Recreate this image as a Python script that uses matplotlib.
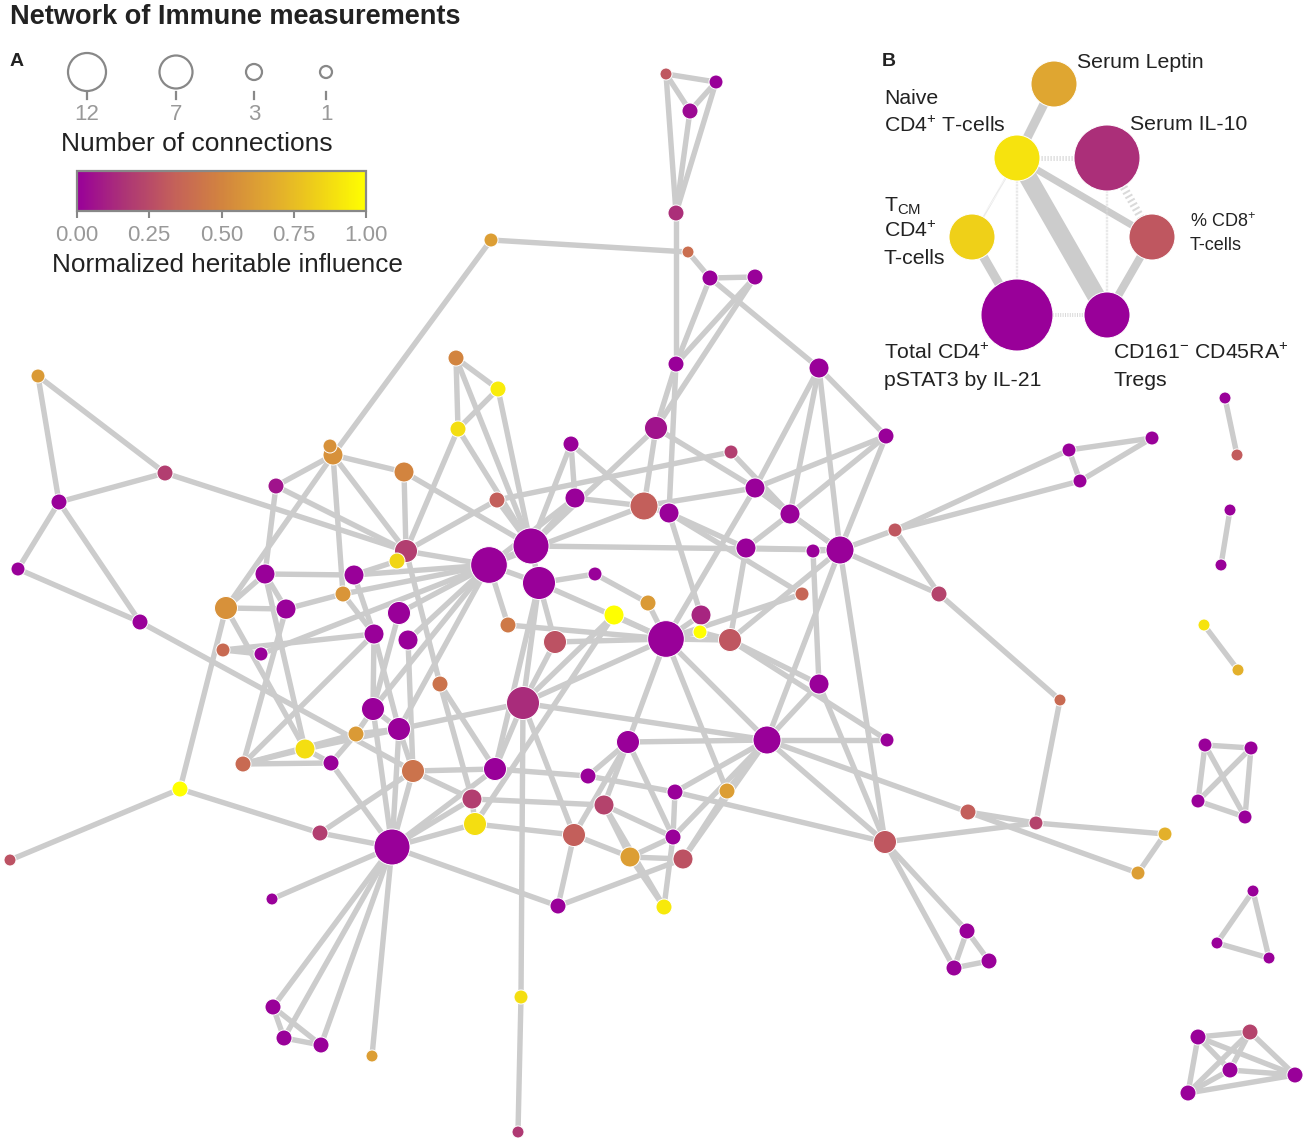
import numpy as np
import matplotlib
matplotlib.use('Agg')
import matplotlib.pyplot as plt
from matplotlib.collections import LineCollection
from matplotlib.colors import LinearSegmentedColormap, Normalize
from matplotlib.cm import ScalarMappable

plt.rcParams['font.family'] = ['Liberation Sans', 'DejaVu Sans']
plt.rcParams['mathtext.fontset'] = 'custom'
plt.rcParams['mathtext.rm'] = 'Liberation Sans'
plt.rcParams['mathtext.default'] = 'regular'

# ---- panel A : nodes (layout coordinates, heritable influence, number of connections)
node_id = ['a1', 'a2', 'a3', 'a4', 'a5', 'a6', 'a7', 'a8', 'a9', 'a10', 'a11',
           'b1', 'b2', 'b3', 'b4', 'b5', 'b6', 'b7',
           'c1', 'c2', 'c3', 'c4', 'c5', 'c6', 'c7', 'c8', 'c9', 'c10', 'c11', 'c12', 'c13',
           'c14', 'c15', 'c16', 'c17', 'c18', 'c19', 'c20', 'c21', 'c22', 'c23', 'c24', 'c25', 'c26',
           'd1', 'd2', 'd3', 'd4', 'd5', 'd6', 'd7', 'd8', 'd9', 'd10', 'd11', 'd12', 'd13', 'd14',
           'd15', 'd16', 'd17', 'd18', 'd19', 'd20', 'd21', 'd22', 'd23', 'd24', 'd25', 'd26', 'd27',
           'e1', 'e2', 'e3', 'e4', 'e5', 'e6', 'e7', 'e8', 'e9', 'e10', 'e11', 'e12', 'e13', 'e14',
           'e15', 'e16', 'e17', 'e18', 'e19', 'e20', 'e21', 'e22', 'e23', 'e24', 'e25', 'e26', 'e27',
           'e28', 'e29', 'e30', 'e31', 'e32', 'e33', 'e34', 'e35', 'e36', 'e37', 'e38', 'e39', 'e40',
           'f1', 'f2', 'f3', 'f4', 'f5', 'f6', 'g1', 'g2', 'g3', 'g4', 'h1', 'h2', 'h3',
           'k1', 'k2', 'k3', 'k4', 'k5']
node_x = [666, 716, 690, 676, 491, 688, 710, 755, 676, 819, 886,
          38, 165, 59, 18, 140, 180, 10,
          456, 498, 458, 571, 656, 731, 330, 333, 404, 276, 497, 575, 644,
          669, 755, 790, 746, 813, 840, 895, 1069, 1152, 1080, 939, 1060, 802,
          531, 489, 539, 406, 397, 354, 265, 595, 343, 226, 286, 399, 374, 408,
          223, 261, 614, 648, 666, 701, 700, 730, 508, 555, 440, 523, 819,
          373, 399, 356, 305, 331, 243, 413, 495, 628, 767, 887, 588, 472, 475,
          320, 392, 675, 727, 604, 574, 673, 630, 683, 558, 664, 968, 885,
          1036, 1165, 1138, 967, 954, 989, 272, 521, 518, 273, 284, 321, 372,
          1225, 1237, 1230, 1221, 1204, 1238, 1205, 1251, 1198, 1245, 1253, 1217, 1269,
          1198, 1250, 1230, 1295, 1188]
node_y = [74, 82, 111, 213, 240, 252, 278, 277, 364, 368, 436,
          376, 473, 502, 569, 622, 789, 860,
          358, 389, 429, 444, 428, 452, 446, 455, 472, 486, 500, 498, 506,
          513, 488, 514, 548, 551, 550, 530, 450, 438, 481, 594, 700, 594,
          546, 565, 583, 551, 561, 575, 574, 574, 594, 608, 609, 613, 634, 640,
          650, 654, 615, 603, 639, 615, 632, 640, 625, 642, 684, 703, 684,
          709, 729, 734, 749, 763, 764, 771, 769, 742, 740, 740, 776, 799, 824,
          833, 847, 792, 791, 805, 835, 837, 857, 859, 906, 907, 812, 842,
          823, 834, 873, 931, 968, 961, 899, 997, 1132, 1007, 1038, 1045, 1056,
          398, 455, 510, 565, 625, 670, 745, 748, 801, 817, 891, 943, 958,
          1037, 1032, 1070, 1075, 1093]
heritable = [.30, 0, .03, .15, .62, .40, 0, 0, 0, 0, 0,
             .60, .20, 0, 0, 0, 1.0, .28,
             .50, .93, .88, 0, .06, .20, .56, .56, .50, .06, .33, 0, .33,
             0, 0, 0, 0, 0, 0, .30, 0, 0, 0, .22, .38, .36,
             0, 0, 0, .20, .85, 0, 0, 0, .58, .56, 0, 0, 0, 0,
             .38, 0, 1.0, .60, 0, .12, 1.0, .30, .45, .28, .42, .14, 0,
             0, 0, .60, .88, 0, .38, .42, 0, 0, 0, 0, 0, .20, .88,
             .20, 0, 0, .62, .22, .33, 0, .62, .28, 0, .92, .33, .30,
             .22, .70, .62, 0, 0, 0, 0, .88, .18, 0, 0, 0, .62,
             0, .32, 0, 0, .90, .70, 0, 0, 0, 0, 0, 0, 0,
             0, .22, 0, 0, 0]
connections = [1, 2, 3, 3, 2, 1, 3, 3, 3, 4, 3,
               2, 3, 3, 2, 3, 3, 1,
               3, 3, 3, 3, 5, 2, 2, 4, 4, 3, 3, 4, 6,
               4, 4, 4, 4, 2, 6, 2, 2, 2, 2, 3, 1, 2,
               9, 10, 7, 5, 3, 4, 4, 2, 3, 5, 4, 5, 4, 4,
               2, 2, 4, 3, 10, 4, 2, 5, 3, 5, 3, 7, 4,
               5, 5, 3, 4, 3, 3, 5, 5, 5, 6, 2, 3, 4, 5,
               3, 9, 3, 3, 4, 5, 3, 4, 4, 3, 3, 3, 5,
               2, 2, 2, 3, 3, 3, 1, 2, 1, 3, 3, 3, 1,
               1, 1, 1, 1, 1, 1, 2, 2, 2, 2, 1, 1, 1,
               3, 3, 3, 3, 3]

edges = [('a1', 'a2'), ('a1', 'a3'), ('a2', 'a3'), ('a1', 'a4'), ('a2', 'a4'), ('a3', 'a4'), ('a4', 'a9'),
         ('a5', 'a6'), ('a5', 'c8'), ('a6', 'a7'), ('a7', 'a10'), ('a7', 'a8'), ('a7', 'a9'), ('a8', 'a9'),
         ('a8', 'c5'), ('a9', 'c5'), ('a9', 'c14'), ('a10', 'c15'), ('a10', 'c16'), ('a10', 'c19'),
         ('a10', 'a11'), ('a11', 'c15'), ('a11', 'c16'), ('a11', 'c19'),
         ('b1', 'b2'), ('b1', 'b3'), ('b2', 'b3'), ('b3', 'b4'), ('b3', 'b5'), ('b4', 'b5'), ('b2', 'd4'),
         ('b5', 'e7'), ('b6', 'b7'), ('b6', 'd10'), ('b6', 'e15'),
         ('c1', 'c2'), ('c1', 'c3'), ('c1', 'd1'), ('c2', 'c3'), ('c2', 'd1'), ('c3', 'd4'), ('c3', 'd1'),
         ('c4', 'c12'), ('c4', 'c13'), ('c4', 'd1'), ('c5', 'c13'), ('c5', 'd1'), ('c5', 'c15'),
         ('c6', 'c11'), ('c6', 'c16'), ('c7', 'c8'), ('c8', 'c10'), ('c8', 'c9'), ('c8', 'd4'), ('c8', 'd9'),
         ('c8', 'd10'), ('c9', 'd4'), ('c9', 'd1'), ('c10', 'd7'), ('c10', 'd4'), ('c11', 'd4'), ('c11', 'd1'),
         ('c12', 'c13'), ('c12', 'd1'), ('c12', 'd2'), ('c13', 'c15'), ('c13', 'd2'), ('c13', 'c14'),
         ('c14', 'd20'), ('c14', 'c17'), ('c14', 'c26'), ('c15', 'c16'), ('c15', 'd19'), ('c15', 'c19'),
         ('c16', 'c17'), ('c16', 'c19'), ('c17', 'c19'), ('c17', 'd22'), ('c18', 'c19'), ('c18', 'd27'),
         ('c19', 'c20'), ('c19', 'c24'), ('c19', 'd1'), ('c19', 'd22'), ('c19', 'e27'), ('c19', 'e10'),
         ('c20', 'c21'), ('c20', 'c23'), ('c20', 'c24'), ('c21', 'c22'), ('c21', 'c23'), ('c22', 'c23'),
         ('c24', 'c25'), ('c25', 'e28'), ('c26', 'd19'),
         ('d1', 'd2'), ('d1', 'd3'), ('d2', 'd3'), ('d2', 'd4'), ('d2', 'd6'), ('d2', 'd9'), ('d2', 'd12'),
         ('d2', 'd14'), ('d2', 'd16'), ('d2', 'e1'), ('d2', 'e2'), ('d2', 'd23'), ('d3', 'd26'), ('d3', 'd8'),
         ('d3', 'd19'), ('d3', 'd24'), ('d3', 'e8'), ('d4', 'd25'), ('d4', 'd5'), ('d5', 'd6'), ('d6', 'd7'),
         ('d6', 'd13'), ('d7', 'd11'), ('d7', 'd10'), ('d7', 'e4'), ('d9', 'd11'), ('d9', 'd13'),
         ('d10', 'd11'), ('d10', 'e4'), ('d11', 'e6'), ('d12', 'e1'), ('d13', 'd15'), ('d13', 'e2'),
         ('d13', 'e1'), ('d14', 'e7'), ('d15', 'd16'), ('d17', 'd19'), ('d17', 'd26'), ('d17', 'e14'),
         ('d18', 'd19'), ('d18', 'd8'), ('d20', 'd19'), ('d20', 'd21'), ('d21', 'd22'), ('d21', 'd19'),
         ('d22', 'd19'), ('d22', 'e11'), ('d22', 'd27'), ('d23', 'd19'), ('d24', 'd19'), ('d24', 'd26'),
         ('d25', 'e8'), ('d25', 'e13'), ('d26', 'd19'), ('d26', 'e8'), ('d26', 'e35'), ('d26', 'e10'),
         ('d26', 'e20'), ('d26', 'e4'), ('d27', 'e10'), ('d27', 'e27'), ('e35', 'e36'),
         ('e1', 'e2'), ('e1', 'e16'), ('e1', 'e3'), ('e2', 'e7'), ('e2', 'e16'), ('e2', 'e3'), ('e3', 'e4'),
         ('e3', 'e5'), ('e3', 'e6'), ('e4', 'e6'), ('e4', 'e5'), ('e5', 'e6'), ('e5', 'e16'), ('e6', 'd13'),
         ('e7', 'e8'), ('e7', 'e16'), ('e7', 'e13'), ('e7', 'e15'), ('e8', 'e16'), ('e8', 'e12'),
         ('e9', 'e12'), ('e9', 'e10'), ('e9', 'e19'), ('e9', 'e21'), ('e9', 'e20'), ('e9', 'd19'),
         ('e10', 'e11'), ('e10', 'e18'), ('e10', 'e23'), ('e10', 'e26'), ('e10', 'e17'), ('e10', 'e21'),
         ('e10', 'd19'), ('e12', 'e17'), ('e17', 'e27'), ('e13', 'e14'), ('e13', 'e16'), ('e13', 'e19'),
         ('e14', 'e16'), ('e14', 'e20'), ('e15', 'e16'), ('e16', 'e24'), ('e16', 'e34'), ('e16', 'e37'),
         ('e16', 'e38'), ('e16', 'e39'), ('e16', 'e40'), ('e17', 'e21'), ('e18', 'e23'), ('e18', 'd19'),
         ('e19', 'e22'), ('e19', 'e25'), ('e19', 'e21'), ('e20', 'e22'), ('e20', 'e24'), ('e21', 'e22'),
         ('e21', 'e25'), ('e22', 'e23'), ('e22', 'e25'), ('e23', 'e24'), ('e26', 'e28'), ('e26', 'e30'),
         ('e27', 'e28'), ('e27', 'e31'), ('e27', 'e32'), ('e27', 'e10'), ('e28', 'e29'), ('e29', 'e30'),
         ('e31', 'e32'), ('e31', 'e33'), ('e32', 'e33'), ('e37', 'e38'), ('e37', 'e39'), ('e38', 'e39'),
         ('f1', 'f2'), ('f3', 'f4'), ('f5', 'f6'),
         ('g1', 'g2'), ('g1', 'g3'), ('g1', 'g4'), ('g2', 'g3'), ('g2', 'g4'), ('g3', 'g4'),
         ('h1', 'h2'), ('h1', 'h3'), ('h2', 'h3'),
         ('k1', 'k2'), ('k1', 'k3'), ('k1', 'k4'), ('k1', 'k5'), ('k2', 'k3'), ('k2', 'k4'), ('k2', 'k5'),
         ('k3', 'k4'), ('k5', 'k4'), ('k3', 'k5')]

# ---- panel B : sub-network
sub_names = ['Serum Leptin', 'Naive CD4+', 'Serum IL-10', 'TCM CD4+', '% CD8+', 'Total CD4+ pSTAT3', 'Tregs']
sub_x = [1054, 1017, 1107, 972, 1152, 1017, 1107]
sub_y = [84, 158, 158, 237, 237, 315, 315]
sub_heritable = [.66, .90, .15, .83, .30, 0, 0]
sub_connections = [5, 5, 7, 5, 5, 9, 5]
sub_edges = [(0, 1), (1, 6), (1, 4), (4, 6), (3, 5), (1, 2), (1, 3), (1, 5), (2, 6), (2, 4), (5, 6)]
sub_corr = [.45, .90, .35, .40, .45, -.25, -.10, -.12, -.12, -.40, -.20]

size_ticks = [12, 7, 3, 1]
cbar_ticks = [0, .25, .5, .75, 1]

# ------------------------------------------------------------------
heat = LinearSegmentedColormap.from_list(
    'heritable', ['#990099', '#ad3575', '#c4605a', '#d2843f', '#e0a830', '#efd018', '#ffff00'])
norm = Normalize(0, 1)


def node_radius(c, zoom=1.0):
    # pixel radius for a number of connections
    return zoom * np.interp(c, [1, 2, 3, 4, 5, 6, 7, 9, 12], [6, 7, 8, 10, 11.5, 14, 16.5, 18, 19])


def px2s(r):
    # scatter area (pt^2) for a pixel radius at dpi 100
    return (2 * r * 0.72) ** 2


W, H = 1314, 1140
fig = plt.figure(figsize=(W / 100, H / 100), dpi=100)
ax = fig.add_axes([0, 0, 1, 1])
ax.set_xlim(0, W)
ax.set_ylim(H, 0)
ax.axis('off')

pos = {n: (x, y) for n, x, y in zip(node_id, node_x, node_y)}
segs = [[pos[u], pos[v]] for u, v in edges]
ax.add_collection(LineCollection(segs, colors='#cccccc', linewidths=3.9, zorder=1, capstyle='round'))

r = node_radius(np.array(connections))
order = np.argsort(-r)
ax.scatter(np.array(node_x)[order], np.array(node_y)[order], s=px2s(r[order]),
           c=np.array(heritable)[order], cmap=heat, norm=norm,
           edgecolors='white', linewidths=0.7, zorder=3)

# panel B
for (i, j), cr in zip(sub_edges, sub_corr):
    lw = abs(cr) * 20 * 0.72
    if cr > 0:
        ax.plot([sub_x[i], sub_x[j]], [sub_y[i], sub_y[j]], color='#cccccc', lw=lw,
                solid_capstyle='butt', zorder=2)
    else:
        ax.plot([sub_x[i], sub_x[j]], [sub_y[i], sub_y[j]], color='#dadada', lw=lw,
                linestyle=(0, (0.25, 0.35)), dash_capstyle='butt', zorder=2)
ax.scatter(sub_x, sub_y, s=px2s(node_radius(np.array(sub_connections), zoom=2)),
           c=sub_heritable, cmap=heat, norm=norm, edgecolors='white', linewidths=0.7, zorder=3)

tcol = '#222222'
fs = 15.3
ax.text(882, 62, 'B', fontsize=14, fontweight='bold', color=tcol, va='center')
ax.text(1077, 62, 'Serum Leptin', fontsize=fs, color=tcol, va='center')
ax.text(884, 99, 'Naive', fontsize=fs, color=tcol, va='center')
ax.text(884, 126, 'CD4$^{+}$ T-cells', fontsize=fs, color=tcol, va='center')
ax.text(1130, 125, 'Serum IL-10', fontsize=fs, color=tcol, va='center')
ax.text(884, 206, r'T$_{\mathregular{CM}}$', fontsize=fs, color=tcol, va='center')
ax.text(884, 231, 'CD4$^{+}$', fontsize=fs, color=tcol, va='center')
ax.text(884, 258, 'T-cells', fontsize=fs, color=tcol, va='center')
ax.text(1190, 222, '% CD8$^{+}$', fontsize=13, color=tcol, va='center')
ax.text(1190, 245, 'T-cells', fontsize=13, color=tcol, va='center')
ax.text(884, 353, 'Total CD4$^{+}$', fontsize=fs, color=tcol, va='center')
ax.text(884, 380, 'pSTAT3 by IL-21', fontsize=fs, color=tcol, va='center')
ax.text(1113, 353, 'CD161$^{-}$ CD45RA$^{+}$', fontsize=fs, color=tcol, va='center')
ax.text(1113, 380, 'Tregs', fontsize=fs, color=tcol, va='center')

# title and panel A legend
ax.text(10, 17, 'Network of Immune measurements', fontsize=19.5, fontweight='bold', color=tcol, va='center')
ax.text(10, 62, 'A', fontsize=14, fontweight='bold', color=tcol, va='center')
leg_x = [87, 176, 254, 326]
ax.scatter(leg_x, [72] * 4, s=px2s(node_radius(np.array(size_ticks))), facecolors='none',
           edgecolors='#888888', linewidths=1.6, zorder=3)
for lx, st in zip(leg_x, size_ticks):
    ax.plot([lx, lx], [92, 99], color='#888888', lw=1.6)
    ax.text(lx, 114, str(st), fontsize=16, color='#999999', ha='center', va='center')
ax.text(197, 144, 'Number of connections', fontsize=19, color=tcol, ha='center', va='center')
ax.text(227, 265, 'Normalized heritable influence', fontsize=18.8, color=tcol, ha='center', va='center')

cax = fig.add_axes([77 / W, 1 - 211 / H, 289 / W, 40 / H])
cb = fig.colorbar(ScalarMappable(norm=norm, cmap=heat), cax=cax, orientation='horizontal', ticks=cbar_ticks)
cb.ax.set_xticklabels(['%.2f' % t for t in cbar_ticks])
cb.ax.tick_params(length=5, width=1.5, color='#888888', labelcolor='#999999', labelsize=16, pad=5)
cb.outline.set_edgecolor('#888888')
cb.outline.set_linewidth(1.6)

fig.savefig('out.png', dpi=100)
